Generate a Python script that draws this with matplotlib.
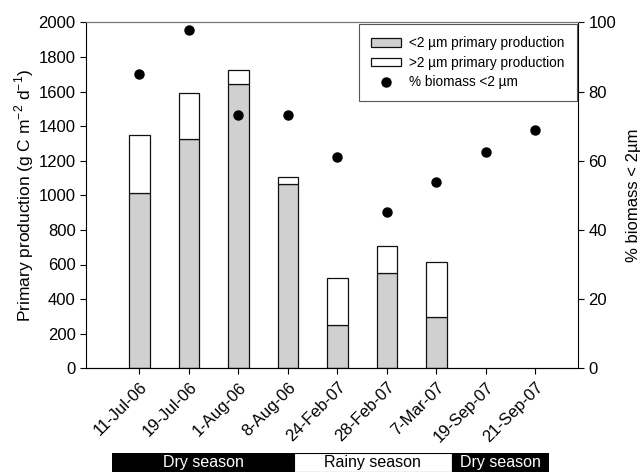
import matplotlib
matplotlib.use("Agg")
import matplotlib.pyplot as plt
from matplotlib.patches import Rectangle
from matplotlib.lines import Line2D

plt.rcParams['font.family'] = ['Liberation Sans', 'DejaVu Sans']

# -------------------- Data --------------------
dates = ["11-Jul-06", "19-Jul-06", "1-Aug-06", "8-Aug-06", "24-Feb-07",
         "28-Feb-07", "7-Mar-07", "19-Sep-07", "21-Sep-07"]
pp_small = [1015, 1327, 1643, 1065, 250, 549, 296, None, None]
pp_total = [1350, 1592, 1723, 1107, 520, 708, 616, None, None]
biomass_small_pct = [85.0, 97.8, 73.1, 73.1, 61.0, 45.1, 53.9, 62.5, 69.0]

seasons = ["Dry season", "Rainy season", "Dry season"]
season_widths = [181.7, 157.7, 97.3]   # pixels in the strip
season_colors = ["black", "white", "black"]

# -------------------- Figure --------------------
fig = plt.figure(figsize=(6.43, 4.72), dpi=100)
ax = fig.add_axes([86 / 643, 1 - 368.3 / 472, (578 - 86) / 643, (368.3 - 22.3) / 472])

x = list(range(len(dates)))
bar_x = [i for i in x if pp_small[i] is not None]
small = [pp_small[i] for i in bar_x]
large = [pp_total[i] - pp_small[i] for i in bar_x]

ax.bar(bar_x, small, width=0.42, color="#d0d0d0", edgecolor="#111111", linewidth=0.9)
ax.bar(bar_x, large, bottom=small, width=0.42, color="white", edgecolor="#111111", linewidth=0.9)

ax.set_xlim(-1.08, 8.86)
ax.set_ylim(0, 2000)
ax.set_yticks(range(0, 2001, 200))
ax.set_xticks(x)
ax.set_xticklabels(dates, rotation=45, ha="right", rotation_mode="anchor")
ax.tick_params(axis="both", labelsize=12, direction="out", length=4, width=0.8)
ax.tick_params(axis="x", pad=4)
ax.set_ylabel("Primary production (g C m$^{\\mathregular{-2}}$ d$^{\\mathregular{-1}}$)",
              fontsize=12.5, labelpad=2)
ax.spines["top"].set_color("#777777")
ax.spines["right"].set_visible(False)

ax2 = ax.twinx()
ax2.plot(x, biomass_small_pct, "o", color="black", markersize=6.5)
ax2.set_ylim(0, 100)
ax2.set_yticks(range(0, 101, 20))
ax2.tick_params(axis="y", labelsize=12, direction="out", length=4, width=0.8)
ax2.set_ylabel("% biomass < 2µm", fontsize=12, labelpad=7)
ax2.spines["top"].set_color("#777777")
ax2.spines["left"].set_visible(False)

handles = [
    Rectangle((0, 0), 1, 1, facecolor="#d0d0d0", edgecolor="#111111", linewidth=0.9),
    Rectangle((0, 0), 1, 1, facecolor="white", edgecolor="#111111", linewidth=0.9),
    Line2D([], [], marker="o", linestyle="none", color="black", markersize=6.5),
]
leg = ax2.legend(handles, ["<2 µm primary production", ">2 µm primary production", "% biomass <2 µm"],
                 loc="upper right", bbox_to_anchor=(0.998, 0.995), borderaxespad=0,
                 fontsize=9.8, fancybox=False,
                 handlelength=2.2, handleheight=0.6, handletextpad=0.6, borderpad=0.9,
                 labelspacing=0.4, framealpha=1)
leg.get_frame().set_edgecolor("#555555")
leg.get_frame().set_linewidth(0.8)

# -------------------- Season strip --------------------
strip = fig.add_axes([112.3 / 643, 0, sum(season_widths) / 643, 19 / 472])
strip.set_xlim(0, sum(season_widths))
strip.set_ylim(0, 1)
strip.axis("off")
left = 0
for name, w, c in zip(seasons, season_widths, season_colors):
    strip.add_patch(Rectangle((left, 0), w, 1, facecolor=c, edgecolor="black", linewidth=0.8))
    strip.text(left + w / 2, 0.5, name, ha="center", va="center", fontsize=11.5,
               color="white" if c == "black" else "black")
    left += w

fig.savefig("out.png", dpi=100)
